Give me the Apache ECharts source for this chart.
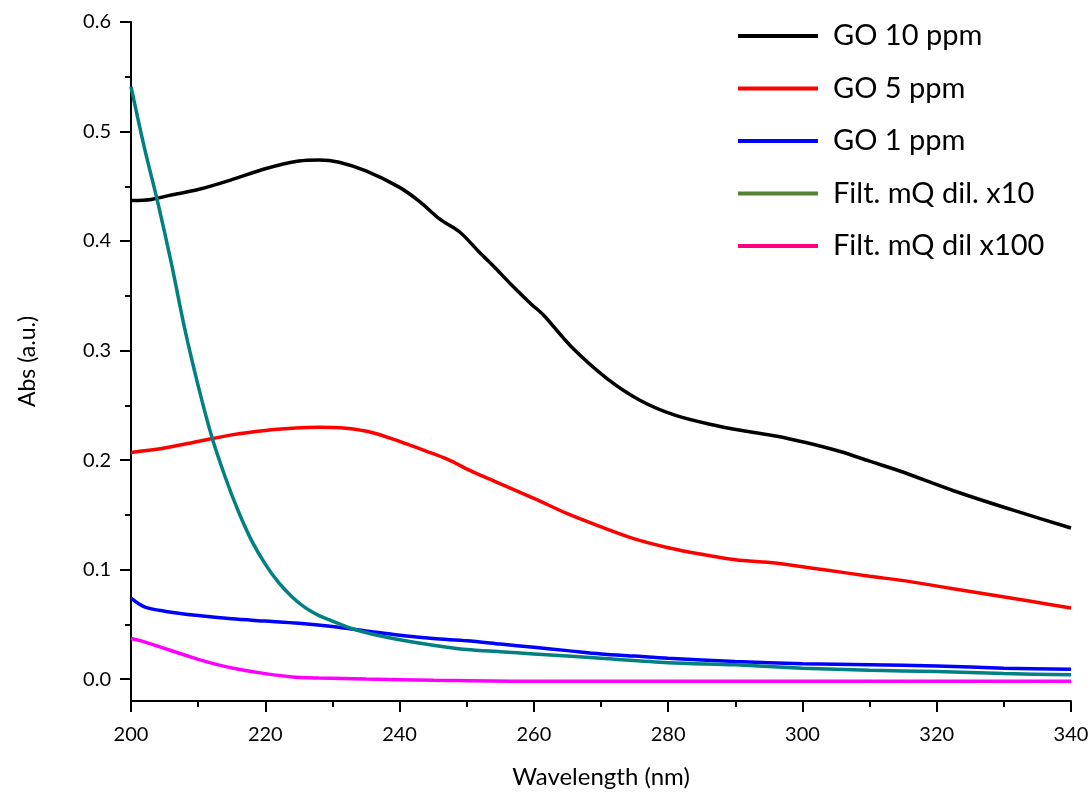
<!DOCTYPE html>
<html>
<head>
<meta charset="utf-8">
<script src="https://cdn.jsdelivr.net/npm/echarts@6/dist/echarts.min.js"></script>
<style>
  html, body { margin: 0; padding: 0; background: #fff; }
  #chart { width: 1092px; height: 794px; }
</style>
</head>
<body>
<div id="chart"></div>
<script>
// values (wavelength nm / absorbance a.u.)
const go10Wl  = [200, 203, 206, 210, 215, 220, 225, 228, 231, 235, 240, 243, 246, 249, 252, 254, 256.5, 259.5, 261.5, 265.5, 271, 276, 281, 286, 291, 296, 300.5, 305.5, 310, 314.5, 322.5, 331.5, 340]
const go10Abs = [0.437, 0.438, 0.442, 0.447, 0.456, 0.466, 0.473, 0.474, 0.472, 0.464, 0.449, 0.436, 0.420, 0.408, 0.389, 0.377, 0.361, 0.343, 0.332, 0.304, 0.274, 0.254, 0.241, 0.233, 0.227, 0.222, 0.216, 0.208, 0.199, 0.190, 0.172, 0.154, 0.138]

const go5Wl  = [200, 205, 210, 215, 220, 224, 228, 232, 236, 240, 244, 247, 251, 254, 260, 265, 270, 275, 280, 285, 290, 296, 303, 310, 316, 322, 328, 334, 340]
const go5Abs = [0.207, 0.211, 0.217, 0.223, 0.227, 0.229, 0.230, 0.229, 0.225, 0.217, 0.208, 0.201, 0.189, 0.181, 0.165, 0.151, 0.139, 0.128, 0.120, 0.114, 0.109, 0.106, 0.100, 0.094, 0.089, 0.083, 0.077, 0.071, 0.065]

const go1Wl  = [200, 202, 205, 210, 215, 220, 225, 230, 235, 240, 245, 250, 255, 260, 265, 270, 275, 280, 290, 300, 310, 320, 330, 340]
const go1Abs = [0.074, 0.066, 0.062, 0.058, 0.055, 0.053, 0.051, 0.048, 0.044, 0.040, 0.037, 0.035, 0.032, 0.029, 0.026, 0.023, 0.021, 0.019, 0.016, 0.014, 0.013, 0.012, 0.010, 0.009]

const dil10Wl  = [200, 202, 204, 206, 208, 210, 212, 214, 216, 218, 220, 222, 224, 226, 228, 230, 233, 236, 240, 245, 250, 255, 260, 270, 280, 290, 300, 310, 320, 330, 340]
const dil10Abs = [0.541, 0.485, 0.435, 0.380, 0.320, 0.268, 0.222, 0.185, 0.153, 0.126, 0.105, 0.088, 0.075, 0.065, 0.058, 0.053, 0.046, 0.041, 0.036, 0.031, 0.027, 0.025, 0.023, 0.019, 0.015, 0.013, 0.010, 0.008, 0.007, 0.005, 0.004]

const dil100Wl  = [200, 202, 205, 208, 210, 213, 216, 220, 224, 228, 235, 245, 260, 300, 340]
const dil100Abs = [0.037, 0.034, 0.028, 0.022, 0.018, 0.013, 0.009, 0.005, 0.002, 0.001, 0.000, -0.001, -0.002, -0.002, -0.002]

const seriesNames = ['GO 10 ppm', 'GO 5 ppm', 'GO 1 ppm', 'Filt. mQ dil. x10', 'Filt. mQ dil x100']
const lineColors = ['#000000', '#FF0000', '#0000FF', '#008080', '#FF00FF']
const legendColors = ['#000000', '#FF0000', '#0000FF', '#548235', '#FF0080']

const yMajorTicks = [0, 0.1, 0.2, 0.3, 0.4, 0.5, 0.6]
const yMinorTicks = [0.05, 0.15, 0.25, 0.35, 0.45, 0.55]

const FONT = 'Lato, "Open Sans", sans-serif'

const pairs = (xs, ys) => xs.map((x, i) => [x, ys[i]])
const allData = [
  pairs(go10Wl, go10Abs),
  pairs(go5Wl, go5Abs),
  pairs(go1Wl, go1Abs),
  pairs(dil10Wl, dil10Abs),
  pairs(dil100Wl, dil100Abs)
]

const chart = echarts.init(document.getElementById('chart'), null, { renderer: 'canvas' })

chart.setOption({
  backgroundColor: '#ffffff',
  animation: false,
  grid: { left: 131, right: 21, top: 22, bottom: 92, containLabel: false },
  legend: {
    orient: 'vertical',
    left: 733,
    top: 16,
    itemWidth: 80,
    itemHeight: 4,
    itemGap: 22.5,
    textStyle: {
      fontFamily: FONT,
      fontSize: 29,
      color: '#000',
      lineHeight: 30,
      padding: [0, 0, 0, 10]
    },
    data: seriesNames.map((name, i) => ({
      name,
      icon: 'rect',
      itemStyle: { color: legendColors[i] },
      lineStyle: { color: legendColors[i], width: 4 }
    }))
  },
  xAxis: {
    type: 'value',
    min: 200,
    max: 340,
    interval: 20,
    name: 'Wavelength (nm)',
    nameLocation: 'middle',
    nameGap: 64,
    nameTextStyle: { fontFamily: FONT, fontSize: 24, color: '#000' },
    axisLine: { show: true, onZero: false, lineStyle: { color: '#000', width: 2 } },
    axisTick: { show: true, length: 11, lineStyle: { color: '#000', width: 2 } },
    minorTick: { show: true, splitNumber: 2, length: 6, lineStyle: { color: '#000', width: 2 } },
    axisLabel: { fontFamily: FONT, fontSize: 20, color: '#000', margin: 24 },
    splitLine: { show: false }
  },
  yAxis: [
    {
      type: 'value',
      min: -0.02,
      max: 0.6,
      position: 'left',
      name: 'Abs (a.u.)',
      nameLocation: 'middle',
      nameGap: 92,
      nameTextStyle: { fontFamily: FONT, fontSize: 23, color: '#000' },
      axisLine: { show: true, onZero: false, lineStyle: { color: '#000', width: 2 } },
      axisTick: { show: true, length: 11, customValues: yMajorTicks, lineStyle: { color: '#000', width: 2 } },
      axisLabel: {
        fontFamily: FONT, fontSize: 20, color: '#000', margin: 20,
        customValues: yMajorTicks,
        formatter: v => v.toFixed(1)
      },
      splitLine: { show: false }
    },
    {
      type: 'value',
      min: -0.02,
      max: 0.6,
      position: 'left',
      axisLine: { show: false },
      axisTick: { show: true, length: 6, customValues: yMinorTicks, lineStyle: { color: '#000', width: 2 } },
      axisLabel: { show: false },
      splitLine: { show: false }
    }
  ],
  series: allData.map((data, i) => ({
    name: seriesNames[i],
    type: 'line',
    xAxisIndex: 0,
    yAxisIndex: 0,
    data,
    symbol: 'none',
    smooth: 0.3,
    lineStyle: { color: lineColors[i], width: 3.5 },
    itemStyle: { color: lineColors[i] },
    z: i === 3 ? 3 : 2
  }))
})
</script>
</body>
</html>
